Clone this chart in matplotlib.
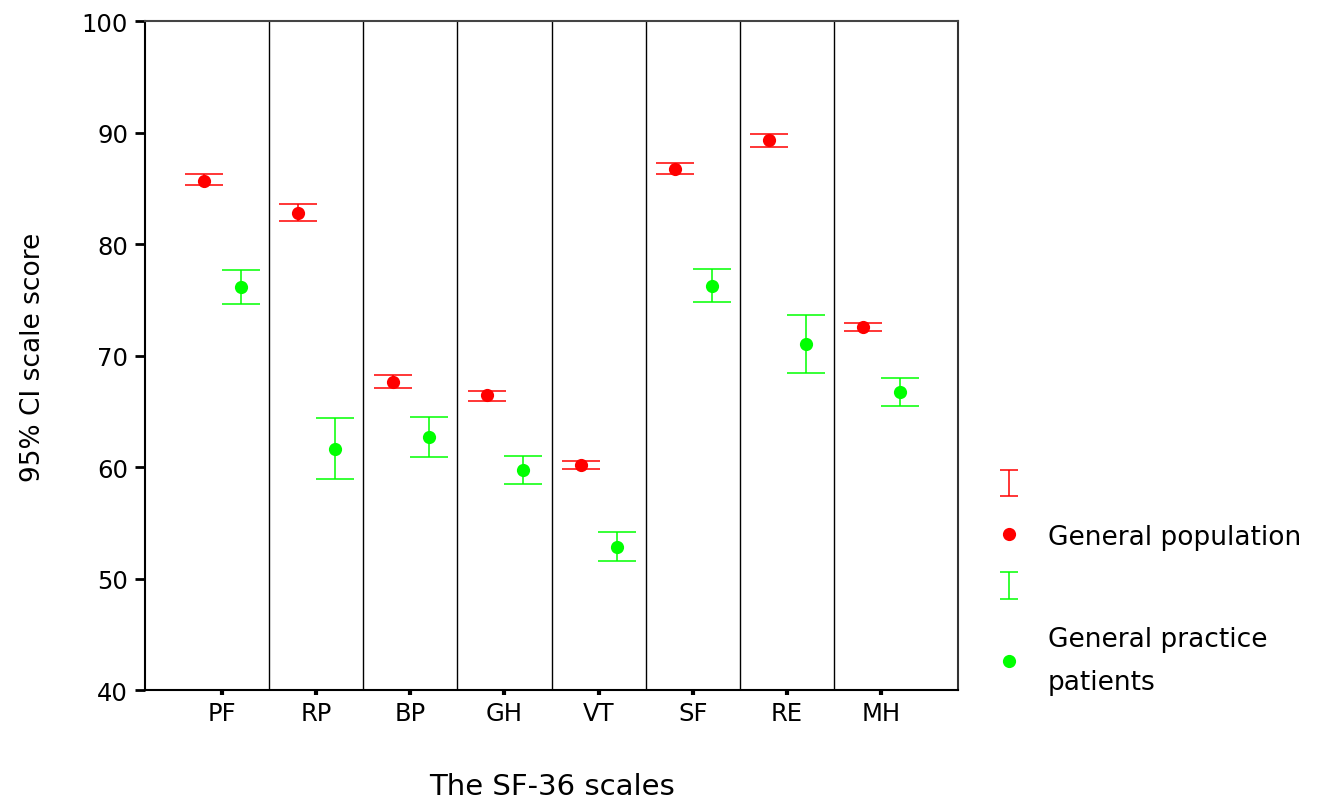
import numpy as np
import matplotlib
matplotlib.use("Agg")
import matplotlib.pyplot as plt
from matplotlib.lines import Line2D
from matplotlib.collections import LineCollection
from matplotlib.container import ErrorbarContainer
from matplotlib.legend_handler import HandlerErrorbar

# SF-36 scales, 95% CI of the mean score
scales = ['PF', 'RP', 'BP', 'GH', 'VT', 'SF', 'RE', 'MH']

pop_mean = [85.7, 82.8, 67.7, 66.5, 60.2, 86.8, 89.4, 72.6]
pop_low = [85.3, 82.1, 67.1, 66.0, 59.9, 86.3, 88.7, 72.2]
pop_high = [86.3, 83.6, 68.3, 66.9, 60.6, 87.3, 89.9, 73.0]

pat_mean = [76.2, 61.7, 62.7, 59.8, 52.9, 76.3, 71.1, 66.8]
pat_low = [74.7, 59.0, 60.9, 58.5, 51.6, 74.8, 68.5, 65.5]
pat_high = [77.7, 64.4, 64.5, 61.0, 54.2, 77.8, 73.7, 68.0]

RED = '#ff0000'
GREEN = '#00ff00'

fig = plt.figure(figsize=(13.22, 8.03), dpi=100)
ax = fig.add_axes([0.1097, 0.1389, 0.615, 0.8331])

x = np.arange(len(scales))
pos_pop = x - 0.19
pos_pat = x + 0.20

for pos, m, lo, hi, col in [(pos_pop, pop_mean, pop_low, pop_high, RED),
                            (pos_pat, pat_mean, pat_low, pat_high, GREEN)]:
    m = np.array(m)
    err = [m - np.array(lo), np.array(hi) - m]
    ax.errorbar(pos, m, yerr=err, fmt='none', ecolor=col, elinewidth=1.1,
                capsize=13.7, capthick=1.1, zorder=3)
    ax.plot(pos, m, 'o', color=col, ms=9.5, mew=0, zorder=4)

# vertical separators between the scales
for i in range(len(scales) - 1):
    ax.axvline(i + 0.5, color='black', lw=1.0, zorder=1)

ax.set_xlim(-0.82, len(scales) - 1 + 0.82)
ax.set_ylim(40, 100)
ax.set_yticks(np.arange(40, 101, 10))
ax.set_xticks(x)
ax.set_xticklabels(scales)
ax.tick_params(axis='y', length=7.2, width=2, labelsize=17.5, pad=5)
ax.tick_params(axis='x', length=3.6, width=3, labelsize=17.5, pad=4)
for s in ['left', 'bottom', 'right', 'top']:
    ax.spines[s].set_linewidth(1.5)
ax.spines['top'].set_color('#444444')
ax.spines['right'].set_color('#333333')

ax.set_xlabel('The SF-36 scales', fontsize=21, labelpad=34)
ax.set_ylabel('95% CI scale score', fontsize=19, labelpad=26)


# legend: CI bar and mean marker as separate entries
def ci_handle(col):
    cap = Line2D([], [], ls='none', marker='_', ms=13, mew=1.1, color=col)
    bar = LineCollection([], colors=col, linewidths=1.1)
    return ErrorbarContainer((None, (cap, cap), (bar,)), has_yerr=True)


eb_pop = ci_handle(RED)
eb_pat = ci_handle(GREEN)
dot_pop = Line2D([], [], ls='none', marker='o', color=RED, ms=9.5, mew=0)
dot_pat = Line2D([], [], ls='none', marker='o', color=GREEN, ms=9.5, mew=0)

leg = fig.legend([eb_pop, dot_pop, eb_pat, dot_pat],
                 ['', 'General population', '', 'General practice\npatients'],
                 loc='upper left', bbox_to_anchor=(0.7511, 0.4103), frameon=False,
                 fontsize=19, handlelength=1.2, handletextpad=0.87,
                 labelspacing=0.95, borderpad=0, borderaxespad=0,
                 handler_map={ErrorbarContainer: HandlerErrorbar(yerr_size=0.5)})
for t in leg.get_texts():
    t.set_linespacing(1.85)

fig.savefig('out.png', dpi=100)
